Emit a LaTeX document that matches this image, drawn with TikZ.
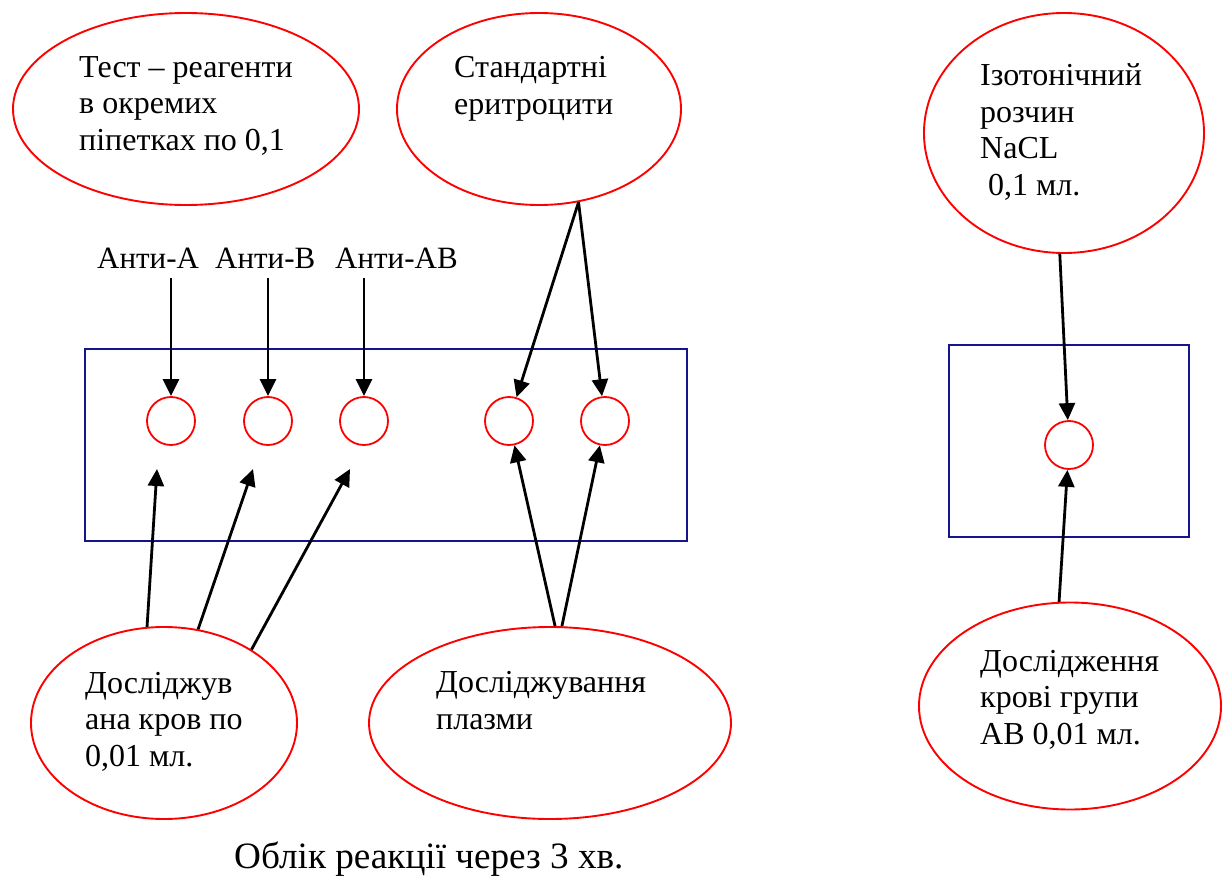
\documentclass[tikz,border=0pt]{standalone}
\usepackage{fontspec}
\setmainfont{Liberation Serif}
\usetikzlibrary{shapes.geometric,arrows.meta}
\definecolor{navyline}{RGB}{20,20,140}
\begin{document}
\begin{tikzpicture}[x=1bp,y=-1bp,
  oval/.style={ellipse,draw=red,line width=1.9bp,inner sep=0pt},
  well/.style={circle,draw=red,line width=1.8bp,minimum size=48bp,inner sep=0pt},
  plate/.style={rectangle,draw=navyline,line width=1.7bp,inner sep=0pt},
  txt/.style={inner sep=0pt,align=left,anchor=base west,font=\fontsize{32bp}{36.5bp}\selectfont},
  lab/.style={inner xsep=0pt,inner ysep=10bp,anchor=base west,font=\fontsize{31bp}{36bp}\selectfont},
  arr/.style={line width=2.8bp,-{Triangle[length=17bp,width=16bp]}}]
\useasboundingbox (0,0) rectangle (1223,877);
% ellipses
\node[oval,minimum width=346bp,minimum height=192bp] (test) at (186,109) {};
\node[oval,minimum width=284bp,minimum height=192bp] (std) at (539,109) {};
\node[oval,minimum width=280bp,minimum height=240bp] (iso) at (1064,133) {};
\node[oval,minimum width=266bp,minimum height=192bp] (blood) at (164,723) {};
\node[oval,minimum width=362bp,minimum height=192bp] (plasma) at (550,723) {};
\node[oval,minimum width=302bp,minimum height=207bp] (ab) at (1070,706) {};
% texts (anchored at the baseline of the last line)
\node[txt] (ttest) at (79,150) {Тест – реагенти\\в окремих\\піпетках по 0,1};
\node[txt] (tstd) at (454,114) {Стандартні\\еритроцити};
\node[txt] (tiso) at (980,195) {Ізотонічний\\розчин\\NaCL\\\hspace*{8bp}0,1 мл.};
\node[txt] (tblood) at (85,766) {Досліджув\\ана кров по\\0,01 мл.};
\node[txt] (tplasma) at (436,729) {Досліджування\\плазми};
\node[txt] (tab) at (980,744) {Дослідження\\крові групи\\АВ 0,01 мл.};
\node[txt,font=\fontsize{37.2bp}{40bp}\selectfont] (tres) at (234,868) {Облік реакції через 3 хв.};
% labels
\node[lab] (la) at (97,268) {Анти-А};
\node[lab] (lb) at (215,268) {Анти-В};
\node[lab] (lab) at (335,268) {Анти-АВ};
% plates
\node[plate,minimum width=602bp,minimum height=192bp] (plate1) at (386,445) {};
\node[plate,minimum width=240bp,minimum height=192bp] (plate2) at (1069,441) {};
% wells
\node[well] (c1) at (171,421) {};
\node[well] (c2) at (268,421) {};
\node[well] (c3) at (364,421) {};
\node[well] (c4) at (509,421) {};
\node[well] (c5) at (605,421) {};
\node[well] (c6) at (1069,445) {};
% free ends
\coordinate (f1) at (157,469);
\coordinate (f2) at (253,469);
\coordinate (f3) at (350,469);
% arrows
\draw[arr] (c1 |- la.south) -- (c1);
\draw[arr] (c2 |- lb.south) -- (c2);
\draw[arr] (c3 |- lab.south) -- (c3);
\draw[arr] (std.-67) -- (c4);
\draw[arr] (std.-67) -- (c5);
\draw[arr] (plasma.87) -- (c4);
\draw[arr] (plasma.83) -- (c5);
\draw[arr] (blood.100) -- (f1);
\draw[arr] (blood.70) -- (f2);
\draw[arr] (blood.40) -- (f3);
\draw[arr] (iso.-92) -- (c6);
\draw[arr] (ab.96) -- (c6);
\end{tikzpicture}
\end{document}
